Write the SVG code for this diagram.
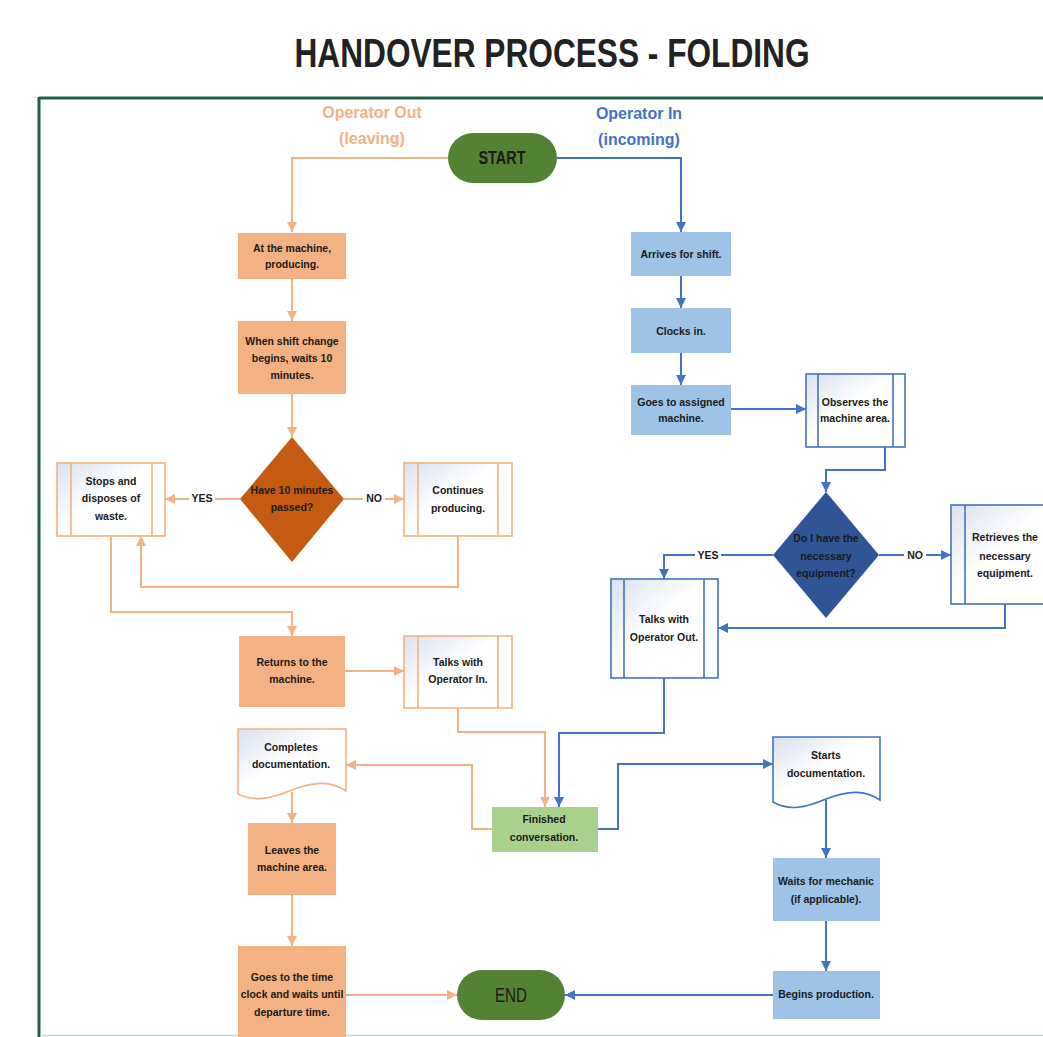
<svg xmlns="http://www.w3.org/2000/svg" width="1043" height="1037" viewBox="0 0 1043 1037">
  <defs>
    <style>
      text { font-family: "Liberation Sans", Arial, sans-serif; fill: #1a1a1a; text-anchor: middle; }
      .t { font-size: 10.5px; font-weight: bold; }
      .lbl { font-size: 10.5px; font-weight: bold; }
      .lane { font-size: 16px; font-weight: bold; }
      .title { font-family: "Liberation Sans Narrow", "Liberation Sans", Arial, sans-serif; font-size: 40px; font-weight: bold; fill: #222; }
      .term { font-size: 19px; }
      .ofill { fill: #f4b183; }
      .bfill { fill: #9dc3e6; }
      .oline { fill: none; stroke: #f4b183; stroke-width: 2; }
      .bline { fill: none; stroke: #4472c4; stroke-width: 2; }
      .opp { fill: url(#paper); stroke: #f4b183; stroke-width: 1.6; }
      .bpp { fill: url(#paper); stroke: #4472c4; stroke-width: 1.6; }
      .oin { stroke: #f4b183; stroke-width: 1.6; }
      .bin { stroke: #4472c4; stroke-width: 1.6; }
      .pill { fill: #548235; }
      .bg { fill: #ffffff; }
    </style>
    <linearGradient id="paper" x1="0" y1="0" x2="1" y2="1">
      <stop offset="0" stop-color="#d9e1ef"/>
      <stop offset="0.45" stop-color="#ffffff"/>
      <stop offset="1" stop-color="#ffffff"/>
    </linearGradient>
    <marker id="ao" markerUnits="userSpaceOnUse" markerWidth="11" markerHeight="11" refX="10" refY="5" orient="auto">
      <path d="M0,0 L10,5 L0,10 z" fill="#f4b183"/>
    </marker>
    <marker id="ab" markerUnits="userSpaceOnUse" markerWidth="11" markerHeight="11" refX="10" refY="5" orient="auto">
      <path d="M0,0 L10,5 L0,10 z" fill="#4472c4"/>
    </marker>
  </defs>

  <rect width="1043" height="1037" fill="#ffffff"/>

  <!-- title and frame -->
  <text class="title" x="552" y="67" textLength="515" lengthAdjust="spacingAndGlyphs">HANDOVER PROCESS - FOLDING</text>
  <line x1="39" y1="98" x2="1043" y2="98" stroke="#1f5e4b" stroke-width="3"/>
  <line x1="39" y1="97" x2="39" y2="1037" stroke="#1f5e4b" stroke-width="3"/>
  <line x1="40" y1="1035.5" x2="1043" y2="1035.5" stroke="#c5d9da" stroke-width="1.5"/>

  <!-- lane headings -->
  <text class="lane" x="372" y="118" style="fill:#f4b183">Operator Out</text>
  <text class="lane" x="372" y="144" style="fill:#f4b183">(leaving)</text>
  <text class="lane" x="639" y="119" style="fill:#4472c4">Operator In</text>
  <text class="lane" x="639" y="145" style="fill:#4472c4">(incoming)</text>

  <!-- connectors -->
  <g id="connectors">
    <path class="oline" d="M448,158 H292 V232" marker-end="url(#ao)"/>
    <path class="oline" d="M292,279 V321" marker-end="url(#ao)"/>
    <path class="oline" d="M292,394 V437" marker-end="url(#ao)"/>
    <path class="oline" d="M240,499 H165" marker-end="url(#ao)"/>
    <path class="oline" d="M344,499 H404" marker-end="url(#ao)"/>
    <path class="oline" d="M458,536 V587 H141 V536" marker-end="url(#ao)"/>
    <path class="oline" d="M111,536 V612 H292 V636" marker-end="url(#ao)"/>
    <path class="oline" d="M345,671 H404" marker-end="url(#ao)"/>
    <path class="oline" d="M458,708 V732 H545 V807" marker-end="url(#ao)"/>
    <path class="oline" d="M492,829 H472 V765 H346" marker-end="url(#ao)"/>
    <path class="oline" d="M292,792 V823" marker-end="url(#ao)"/>
    <path class="oline" d="M292,895 V946" marker-end="url(#ao)"/>
    <path class="oline" d="M346,995 H457" marker-end="url(#ao)"/>

    <path class="bline" d="M557,158 H681 V232" marker-end="url(#ab)"/>
    <path class="bline" d="M681,276 V308" marker-end="url(#ab)"/>
    <path class="bline" d="M681,353 V385" marker-end="url(#ab)"/>
    <path class="bline" d="M731,409 H806" marker-end="url(#ab)"/>
    <path class="bline" d="M885,447 V470 H826 V492" marker-end="url(#ab)"/>
    <path class="bline" d="M773,555 H664 V579" marker-end="url(#ab)"/>
    <path class="bline" d="M879,555 H951" marker-end="url(#ab)"/>
    <path class="bline" d="M1005,604 V628 H718" marker-end="url(#ab)"/>
    <path class="bline" d="M664,678 V733 H559 V807" marker-end="url(#ab)"/>
    <path class="bline" d="M598,829 H618 V764 H773" marker-end="url(#ab)"/>
    <path class="bline" d="M826,800 V858" marker-end="url(#ab)"/>
    <path class="bline" d="M826,921 V971" marker-end="url(#ab)"/>
    <path class="bline" d="M773,995 H565" marker-end="url(#ab)"/>

    <!-- branch labels -->
    <rect class="bg" x="189" y="491" width="26" height="15"/>
    <text class="lbl" x="202" y="502">YES</text>
    <rect class="bg" x="363" y="491" width="22" height="15"/>
    <text class="lbl" x="374" y="502">NO</text>
    <rect class="bg" x="695" y="548" width="26" height="15"/>
    <text class="lbl" x="708" y="559">YES</text>
    <rect class="bg" x="904" y="548" width="22" height="15"/>
    <text class="lbl" x="915" y="559">NO</text>
  </g>

  <!-- terminals -->
  <g id="start">
    <rect class="pill" x="448" y="133" width="109" height="50" rx="25"/>
    <text class="term" x="502" y="164" style="font-weight:bold" textLength="47" lengthAdjust="spacingAndGlyphs">START</text>
  </g>
  <g id="end">
    <rect class="pill" x="457" y="970" width="108" height="50" rx="25"/>
    <text class="term" x="511" y="1002" style="font-size:20px" textLength="32" lengthAdjust="spacingAndGlyphs">END</text>
  </g>

  <!-- Operator Out lane -->
  <g id="out-producing">
    <rect class="ofill" x="238" y="233" width="108" height="46"/>
    <text class="t" x="292" y="252">At the machine,</text>
    <text class="t" x="292" y="268">producing.</text>
  </g>
  <g id="out-wait">
    <rect class="ofill" x="238" y="321" width="108" height="73"/>
    <text class="t" x="292" y="345">When shift change</text>
    <text class="t" x="292" y="362">begins, waits 10</text>
    <text class="t" x="292" y="379">minutes.</text>
  </g>
  <g id="out-decision">
    <path d="M292,437 L344,499 L292,562 L240,499 Z" fill="#c55a11"/>
    <text class="t" x="292" y="494">Have 10 minutes</text>
    <text class="t" x="292" y="511">passed?</text>
  </g>
  <g id="out-waste">
    <rect class="opp" x="57" y="463" width="108" height="73"/>
    <line class="oin" x1="71" y1="463" x2="71" y2="536"/>
    <line class="oin" x1="152" y1="463" x2="152" y2="536"/>
    <text class="t" x="111" y="485">Stops and</text>
    <text class="t" x="111" y="502">disposes of</text>
    <text class="t" x="111" y="520">waste.</text>
  </g>
  <g id="out-continue">
    <rect class="opp" x="404" y="463" width="108" height="73"/>
    <line class="oin" x1="418" y1="463" x2="418" y2="536"/>
    <line class="oin" x1="498" y1="463" x2="498" y2="536"/>
    <text class="t" x="458" y="494">Continues</text>
    <text class="t" x="458" y="512">producing.</text>
  </g>
  <g id="out-return">
    <rect class="ofill" x="239" y="636" width="106" height="71"/>
    <text class="t" x="292" y="666">Returns to the</text>
    <text class="t" x="292" y="683">machine.</text>
  </g>
  <g id="out-talk">
    <rect class="opp" x="404" y="636" width="108" height="72"/>
    <line class="oin" x1="418" y1="636" x2="418" y2="708"/>
    <line class="oin" x1="498" y1="636" x2="498" y2="708"/>
    <text class="t" x="458" y="666">Talks with</text>
    <text class="t" x="458" y="683">Operator In.</text>
  </g>
  <g id="out-documentation">
    <path class="opp" d="M238,729 H346 V791 C331,781 315,781 292,790 C270,799 255,802 238,794 Z"/>
    <text class="t" x="291" y="751">Completes</text>
    <text class="t" x="291" y="768">documentation.</text>
  </g>
  <g id="out-leave">
    <rect class="ofill" x="248" y="823" width="88" height="72"/>
    <text class="t" x="292" y="854">Leaves the</text>
    <text class="t" x="292" y="871">machine area.</text>
  </g>
  <g id="out-clock">
    <rect class="ofill" x="238" y="946" width="108" height="91"/>
    <text class="t" x="292" y="981">Goes to the time</text>
    <text class="t" x="292" y="998">clock and waits until</text>
    <text class="t" x="292" y="1016">departure time.</text>
  </g>

  <!-- shared -->
  <g id="finished">
    <rect x="492" y="807" width="106" height="45" fill="#a9d18e"/>
    <text class="t" x="544" y="823">Finished</text>
    <text class="t" x="544" y="841">conversation.</text>
  </g>

  <!-- Operator In lane -->
  <g id="in-arrive">
    <rect class="bfill" x="631" y="232" width="100" height="44"/>
    <text class="t" x="681" y="258">Arrives for shift.</text>
  </g>
  <g id="in-clock">
    <rect class="bfill" x="631" y="308" width="100" height="45"/>
    <text class="t" x="681" y="335">Clocks in.</text>
  </g>
  <g id="in-goto">
    <rect class="bfill" x="631" y="385" width="100" height="50"/>
    <text class="t" x="681" y="406">Goes to assigned</text>
    <text class="t" x="681" y="422">machine.</text>
  </g>
  <g id="in-observe">
    <rect class="bpp" x="806" y="374" width="99" height="73"/>
    <line class="bin" x1="818" y1="374" x2="818" y2="447"/>
    <line class="bin" x1="893" y1="374" x2="893" y2="447"/>
    <text class="t" x="855" y="406">Observes the</text>
    <text class="t" x="855" y="422">machine area.</text>
  </g>
  <g id="in-decision">
    <path d="M826,492 L879,555 L826,618 L773,555 Z" fill="#2f5597"/>
    <text class="t" x="826" y="542">Do I have the</text>
    <text class="t" x="826" y="560">necessary</text>
    <text class="t" x="826" y="577">equipment?</text>
  </g>
  <g id="in-retrieve">
    <rect class="bpp" x="951" y="505" width="110" height="99"/>
    <line class="bin" x1="965" y1="505" x2="965" y2="604"/>
    <text class="t" x="1005" y="541">Retrieves the</text>
    <text class="t" x="1005" y="560">necessary</text>
    <text class="t" x="1005" y="577">equipment.</text>
  </g>
  <g id="in-talk">
    <rect class="bpp" x="611" y="579" width="107" height="99"/>
    <line class="bin" x1="624" y1="579" x2="624" y2="678"/>
    <line class="bin" x1="704" y1="579" x2="704" y2="678"/>
    <text class="t" x="664" y="623">Talks with</text>
    <text class="t" x="664" y="641">Operator Out.</text>
  </g>
  <g id="in-documentation">
    <path class="bpp" d="M773,737 H880 V800 C865,790 849,790 826,799 C805,808 789,811 773,802 Z"/>
    <text class="t" x="826" y="759">Starts</text>
    <text class="t" x="826" y="777">documentation.</text>
  </g>
  <g id="in-mechanic">
    <rect class="bfill" x="773" y="858" width="107" height="63"/>
    <text class="t" x="826" y="885">Waits for mechanic</text>
    <text class="t" x="826" y="903">(if applicable).</text>
  </g>
  <g id="in-production">
    <rect class="bfill" x="773" y="971" width="107" height="48"/>
    <text class="t" x="826" y="998">Begins production.</text>
  </g>
</svg>
